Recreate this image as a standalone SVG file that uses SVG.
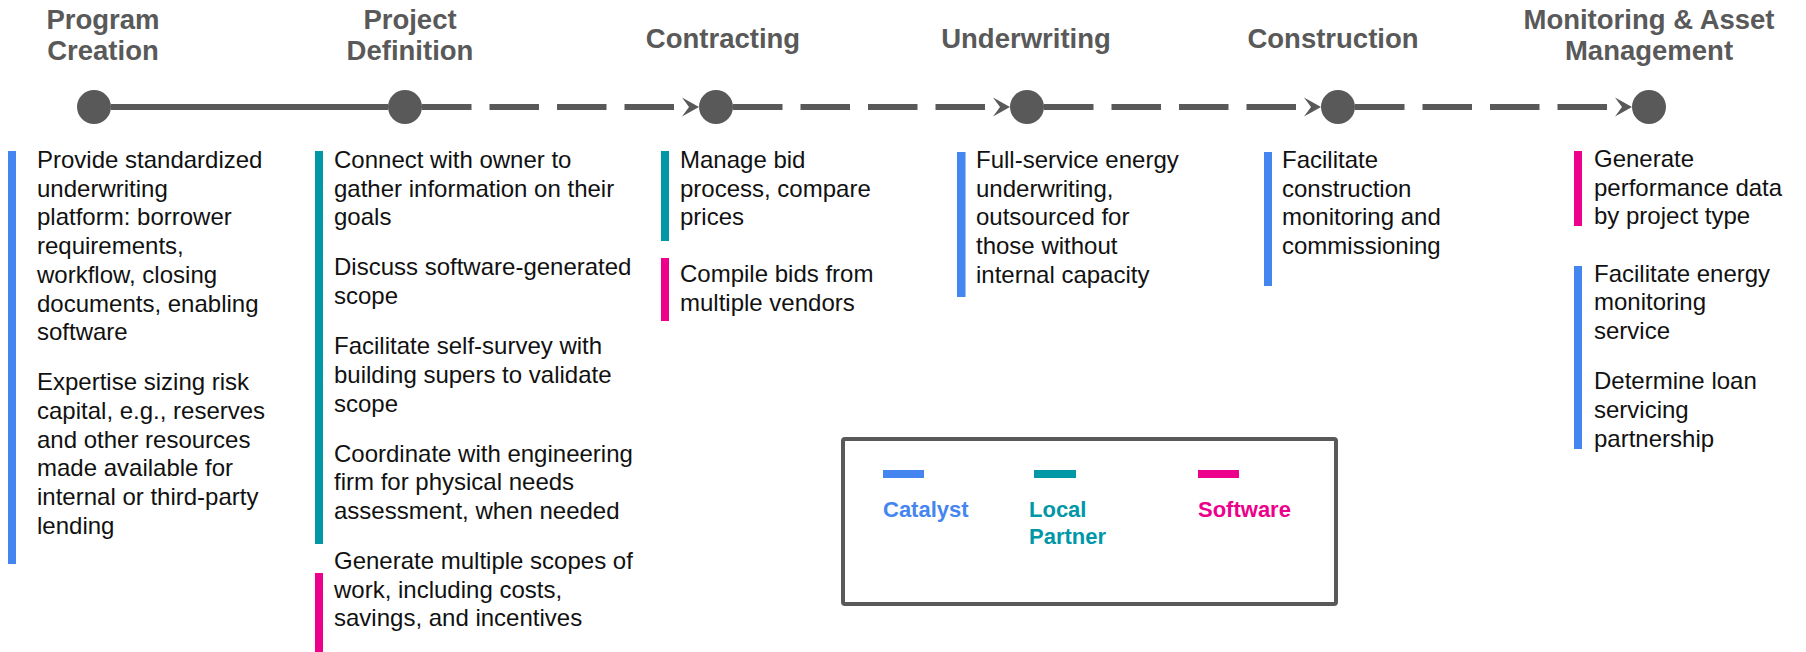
<svg xmlns="http://www.w3.org/2000/svg" width="1806" height="652" viewBox="0 0 1806 652">
  <style>
    .title { font-family: "Liberation Sans", Arial, sans-serif; font-weight: bold; font-size: 27.5px; fill: #595959; text-anchor: middle; }
    .body { font-family: "Liberation Sans", Arial, sans-serif; font-size: 24px; fill: #111111; }
    .legend-label { font-family: "Liberation Sans", Arial, sans-serif; font-weight: bold; font-size: 22px; }
    .stage { fill: #595959; }
    .link { stroke: #595959; stroke-width: 6; fill: none; }
    .dashed { stroke-dasharray: 49.5 18; marker-end: url(#arrowhead); }
    .catalyst { fill: #4585F0; }
    .partner { fill: #0097A7; }
    .software { fill: #EC008C; }
  </style>
  <defs>
    <marker id="arrowhead" markerUnits="userSpaceOnUse" viewBox="0 0 26 20" refX="0" refY="10" markerWidth="26" markerHeight="20" orient="auto">
      <path d="M8 0.5 L25 10 L8 19.5 L15 10 Z" fill="#595959"/>
    </marker>
  </defs>

  <rect width="1806" height="652" fill="#ffffff"/>

  <!-- timeline connectors -->
  <g id="connectors">
    <line class="link" x1="111" y1="107" x2="388" y2="107"/>
    <line class="link dashed" x1="422" y1="107" x2="674" y2="107"/>
    <line class="link dashed" x1="733" y1="107" x2="985" y2="107"/>
    <line class="link dashed" x1="1044" y1="107" x2="1296" y2="107"/>
    <line class="link dashed" x1="1355" y1="107" x2="1607" y2="107"/>
  </g>

  <!-- stage 1 -->
  <g id="program-creation">
    <text class="title" x="103" y="29">Program</text>
    <text class="title" x="103" y="60">Creation</text>
    <circle class="stage" cx="94" cy="107" r="17"/>
    <rect class="catalyst" x="8" y="151" width="8" height="413"/>
    <text class="body" x="37">
      <tspan x="37" y="168">Provide standardized</tspan>
      <tspan x="37" y="196.7">underwriting</tspan>
      <tspan x="37" y="225.4">platform: borrower</tspan>
      <tspan x="37" y="254.1">requirements,</tspan>
      <tspan x="37" y="282.8">workflow, closing</tspan>
      <tspan x="37" y="311.5">documents, enabling</tspan>
      <tspan x="37" y="340.2">software</tspan>
      <tspan x="37" y="390.2">Expertise sizing risk</tspan>
      <tspan x="37" y="418.9">capital, e.g., reserves</tspan>
      <tspan x="37" y="447.6">and other resources</tspan>
      <tspan x="37" y="476.3">made available for</tspan>
      <tspan x="37" y="505">internal or third-party</tspan>
      <tspan x="37" y="533.7">lending</tspan>
    </text>
  </g>

  <!-- stage 2 -->
  <g id="project-definition">
    <text class="title" x="410" y="29">Project</text>
    <text class="title" x="410" y="60">Definition</text>
    <circle class="stage" cx="405" cy="107" r="17"/>
    <rect class="partner" x="315" y="151" width="8" height="393"/>
    <rect class="software" x="315" y="573" width="8" height="79"/>
    <text class="body">
      <tspan x="334" y="168">Connect with owner to</tspan>
      <tspan x="334" y="196.7">gather information on their</tspan>
      <tspan x="334" y="225.4">goals</tspan>
      <tspan x="334" y="275.4">Discuss software-generated</tspan>
      <tspan x="334" y="304.1">scope</tspan>
      <tspan x="334" y="354.1">Facilitate self-survey with</tspan>
      <tspan x="334" y="382.8">building supers to validate</tspan>
      <tspan x="334" y="411.5">scope</tspan>
      <tspan x="334" y="461.5">Coordinate with engineering</tspan>
      <tspan x="334" y="490.2">firm for physical needs</tspan>
      <tspan x="334" y="518.9">assessment, when needed</tspan>
      <tspan x="334" y="568.9">Generate multiple scopes of</tspan>
      <tspan x="334" y="597.6">work, including costs,</tspan>
      <tspan x="334" y="626.3">savings, and incentives</tspan>
    </text>
  </g>

  <!-- stage 3 -->
  <g id="contracting">
    <text class="title" x="723" y="48">Contracting</text>
    <circle class="stage" cx="716" cy="107" r="17"/>
    <rect class="partner" x="661" y="151" width="8" height="90"/>
    <rect class="software" x="661" y="258" width="8" height="63"/>
    <text class="body">
      <tspan x="680" y="168">Manage bid</tspan>
      <tspan x="680" y="196.7">process, compare</tspan>
      <tspan x="680" y="225.4">prices</tspan>
      <tspan x="680" y="282.4">Compile bids from</tspan>
      <tspan x="680" y="311.1">multiple vendors</tspan>
    </text>
  </g>

  <!-- stage 4 -->
  <g id="underwriting">
    <text class="title" x="1026" y="48">Underwriting</text>
    <circle class="stage" cx="1027" cy="107" r="17"/>
    <rect class="catalyst" x="957" y="152" width="8.5" height="145"/>
    <text class="body">
      <tspan x="976" y="168">Full-service energy</tspan>
      <tspan x="976" y="196.7">underwriting,</tspan>
      <tspan x="976" y="225.4">outsourced for</tspan>
      <tspan x="976" y="254.1">those without</tspan>
      <tspan x="976" y="282.8">internal capacity</tspan>
    </text>
  </g>

  <!-- stage 5 -->
  <g id="construction">
    <text class="title" x="1333" y="48">Construction</text>
    <circle class="stage" cx="1338" cy="107" r="17"/>
    <rect class="catalyst" x="1264" y="152" width="8" height="134"/>
    <text class="body">
      <tspan x="1282" y="168">Facilitate</tspan>
      <tspan x="1282" y="196.7">construction</tspan>
      <tspan x="1282" y="225.4">monitoring and</tspan>
      <tspan x="1282" y="254.1">commissioning</tspan>
    </text>
  </g>

  <!-- stage 6 -->
  <g id="monitoring-asset-management">
    <text class="title" x="1649" y="29">Monitoring &amp; Asset</text>
    <text class="title" x="1649" y="60">Management</text>
    <circle class="stage" cx="1649" cy="107" r="17"/>
    <rect class="software" x="1574" y="151" width="8" height="75"/>
    <rect class="catalyst" x="1574" y="266" width="8" height="183"/>
    <text class="body">
      <tspan x="1594" y="167">Generate</tspan>
      <tspan x="1594" y="195.7">performance data</tspan>
      <tspan x="1594" y="224.4">by project type</tspan>
      <tspan x="1594" y="281.7">Facilitate energy</tspan>
      <tspan x="1594" y="310.4">monitoring</tspan>
      <tspan x="1594" y="339.1">service</tspan>
      <tspan x="1594" y="389.1">Determine loan</tspan>
      <tspan x="1594" y="417.8">servicing</tspan>
      <tspan x="1594" y="446.5">partnership</tspan>
    </text>
  </g>

  <!-- legend -->
  <g id="legend">
    <rect x="843" y="439" width="493" height="165" rx="2" fill="none" stroke="#595959" stroke-width="4"/>
    <rect class="catalyst" x="883" y="470" width="41" height="8"/>
    <rect class="partner" x="1034" y="470" width="42" height="8"/>
    <rect class="software" x="1198" y="470" width="41" height="8"/>
    <text class="legend-label catalyst" x="883" y="517">Catalyst</text>
    <text class="legend-label partner">
      <tspan x="1029" y="517">Local</tspan>
      <tspan x="1029" y="544">Partner</tspan>
    </text>
    <text class="legend-label software" x="1198" y="517">Software</text>
  </g>
</svg>
